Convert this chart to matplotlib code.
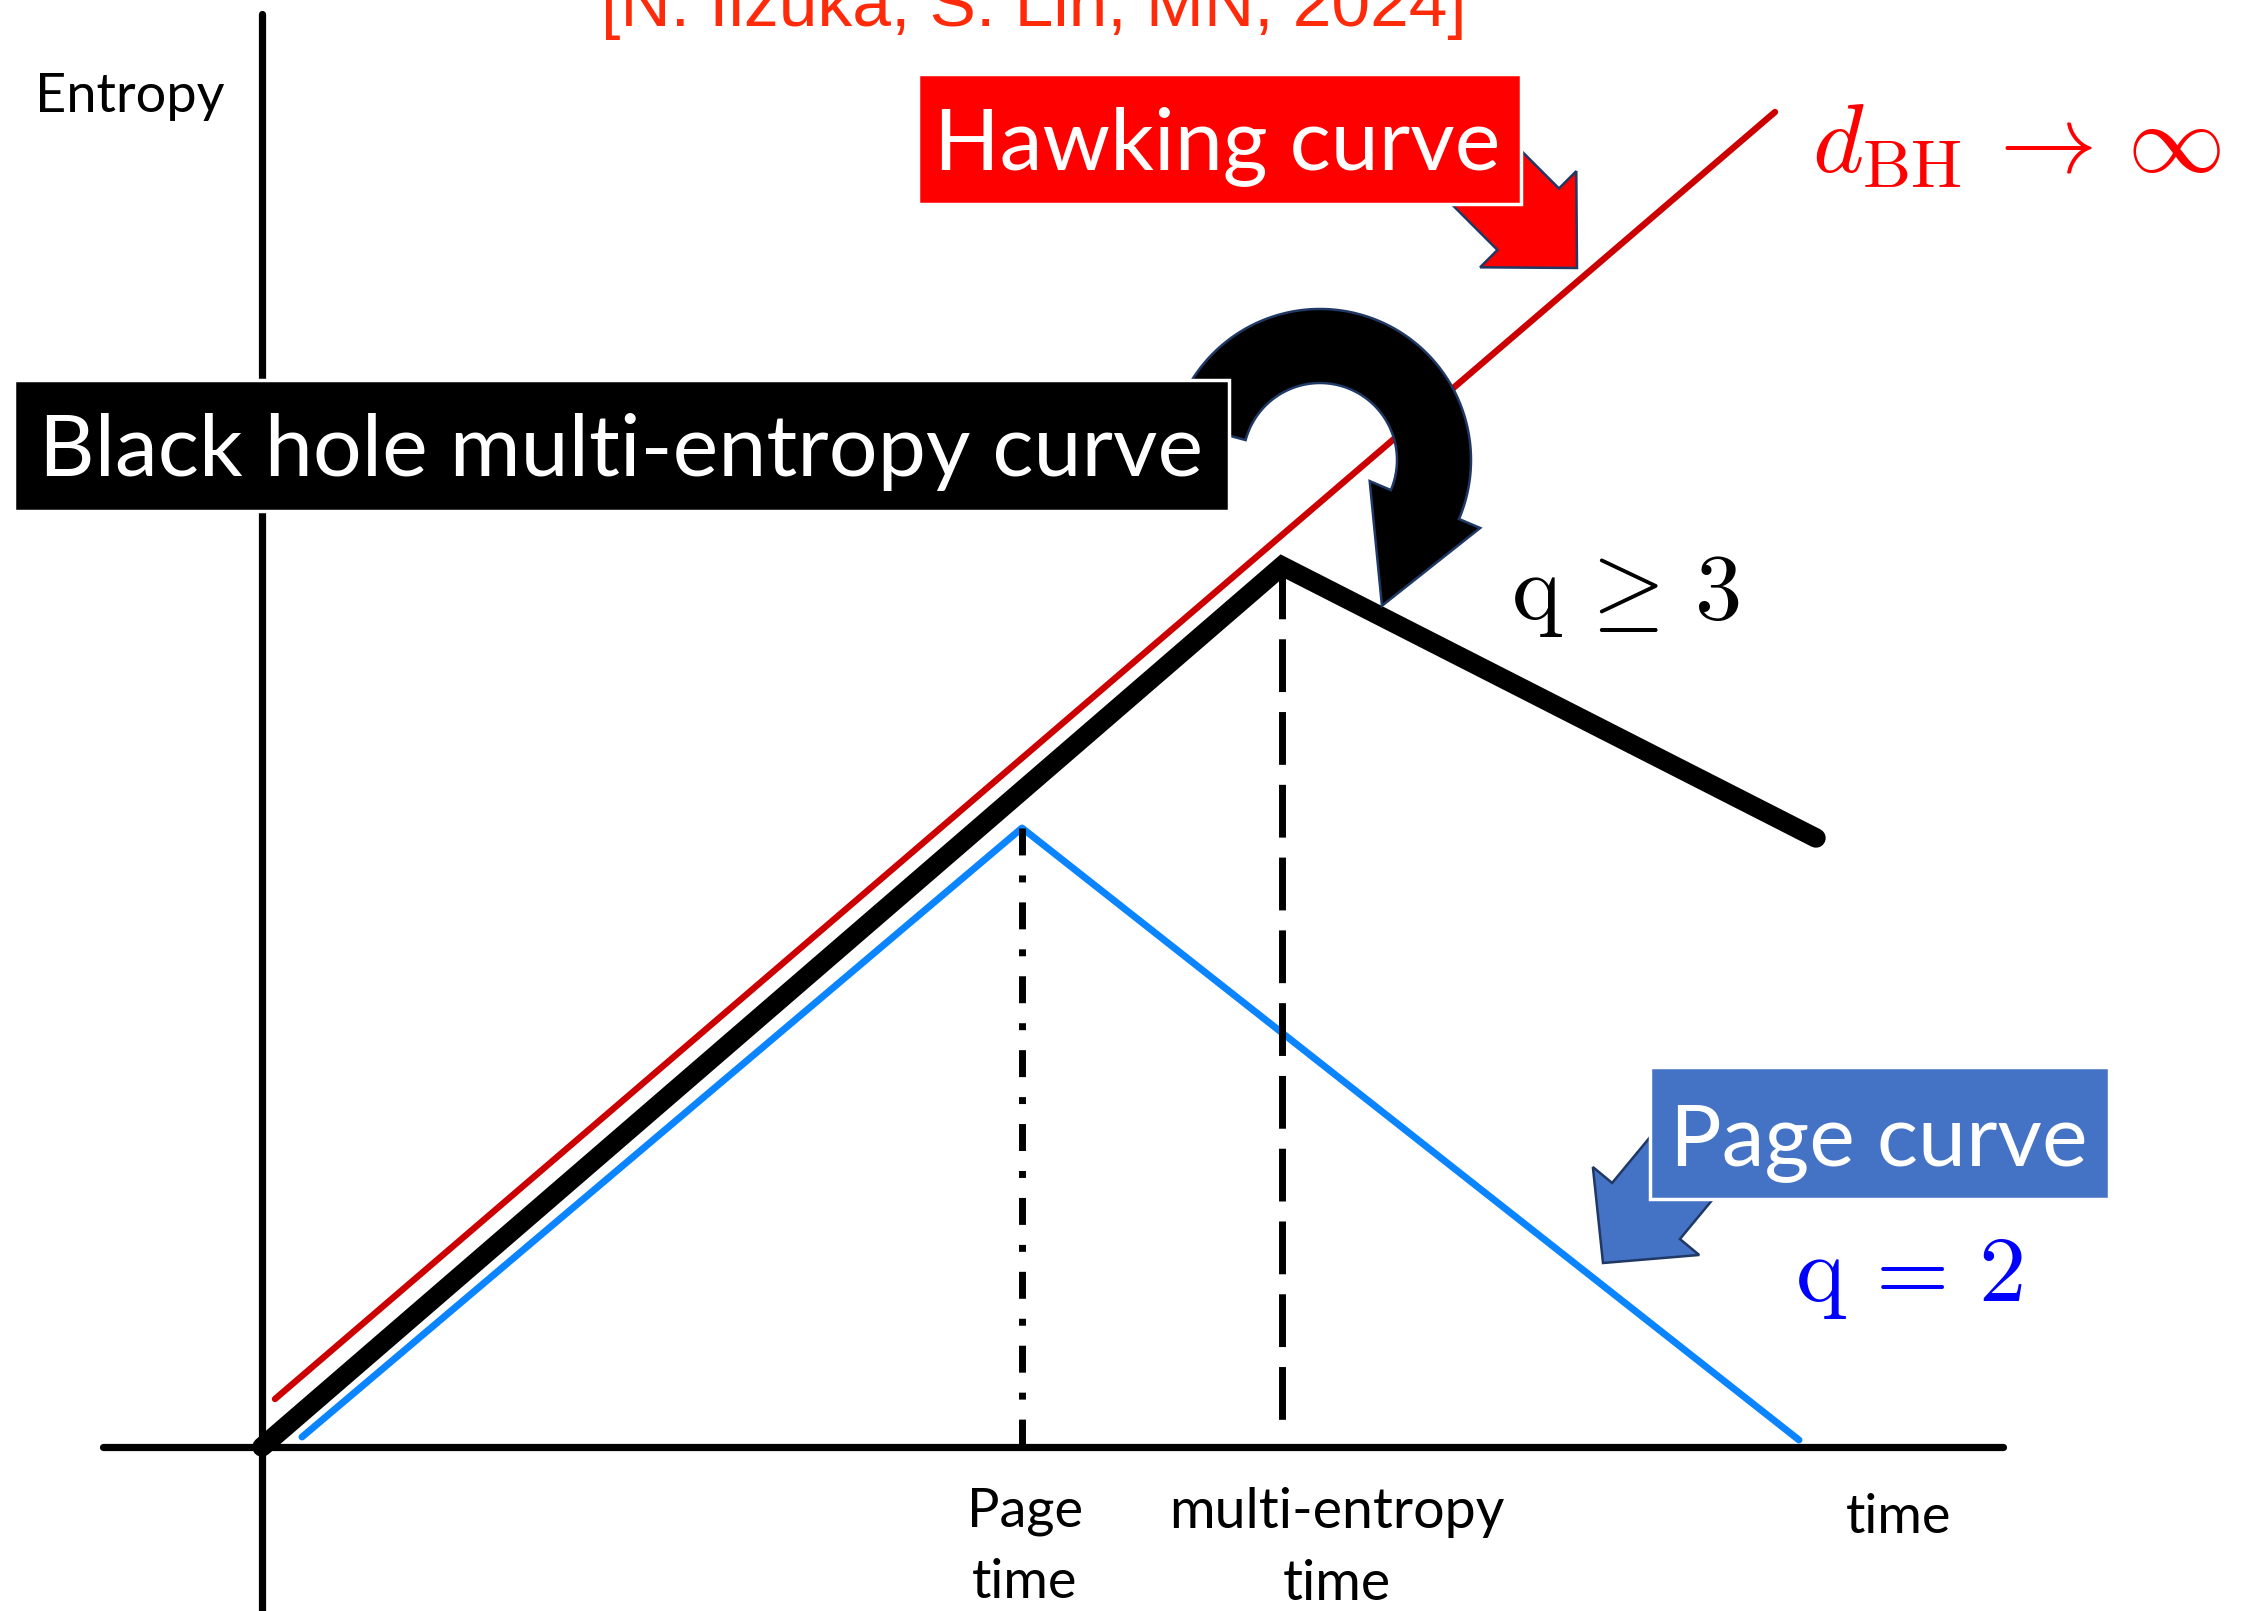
import matplotlib
matplotlib.use("Agg")
import matplotlib.pyplot as plt
import numpy as np
from matplotlib.patches import Polygon, Rectangle

plt.rcParams.update({
    "mathtext.fontset": "cm",
    "lines.scale_dashes": False,
})

# Schematic curves: time vs entropy
hawking_t = [0.13, 15.13]
hawking_s = [0.48, 13.35]
multi_t = [0.0, 10.2, 15.54]
multi_s = [0.0, 8.81, 6.09]
page_t = [0.40, 7.60, 15.37]
page_s = [0.10, 6.19, 0.07]

PAGE_TIME = page_t[1]
MULTI_TIME = multi_t[1]

SANS = "Lato"
BOX_FS = 62
LABEL_FS = 39
MATH_FS = 68
EDGE = "#1f3864"


def block_arrow(ax, tip, direction, length, shaft_hw, head_hw, head_len, **kw):
    d = np.asarray(direction, float)
    d /= np.hypot(*d)
    n = np.array([-d[1], d[0]])
    tip = np.asarray(tip, float)
    base = tip - head_len * d
    tail = tip - length * d
    pts = [tail + shaft_hw * n, base + shaft_hw * n, base + head_hw * n, tip,
           base - head_hw * n, base - shaft_hw * n, tail - shaft_hw * n]
    ax.add_patch(Polygon(pts, closed=True, **kw))


def curved_arrow(ax, center, radius, half_w, theta0, theta1, head_hw, head_len, **kw):
    """Clockwise arc-shaped block arrow."""
    c = np.asarray(center, float)
    th = np.radians(np.linspace(theta0, theta1, 120))
    ring = np.c_[np.cos(th), np.sin(th)]
    outer = c + ring * (radius + half_w)
    inner = c + ring * (radius - half_w)
    t1 = th[-1]
    u = np.array([np.cos(t1), np.sin(t1)])
    tang = np.array([np.sin(t1), -np.cos(t1)])
    mid = c + radius * u
    head = [mid + head_hw * u, mid + head_len * tang, mid - head_hw * u]
    pts = np.vstack([outer, head, inner[::-1]])
    ax.add_patch(Polygon(pts, closed=True, **kw))


def label_box(ax, x0, y0, x1, y1, color, text, tx, ty):
    ax.add_patch(Rectangle((x0, y0), x1 - x0, y1 - y0, facecolor=color,
                           edgecolor="white", linewidth=2.5, zorder=5))
    ax.text(tx, ty, text, color="white", fontsize=BOX_FS, family=SANS,
            ha="center", va="baseline", zorder=6)


fig = plt.figure(figsize=(22.46, 16.11), dpi=100)
ax = fig.add_axes([0, 0, 1, 1])
ax.set_xlim(-2.62, 19.84)
ax.set_ylim(-1.64, 14.47)
ax.set_xticks([])
ax.set_yticks([])

# axes drawn as crossing spines
for side in ("top", "right"):
    ax.spines[side].set_visible(False)
ax.spines["left"].set_position(("data", 0))
ax.spines["bottom"].set_position(("data", 0))
ax.spines["left"].set_bounds(-2.0, 14.33)
ax.spines["bottom"].set_bounds(-1.59, 17.41)
for side in ("left", "bottom"):
    ax.spines[side].set_linewidth(5.2)
    ax.spines[side].set_capstyle("round")
    ax.spines[side].set_zorder(1)

# curves
ax.plot(hawking_t, hawking_s, color="#cc0000", lw=4.6, solid_capstyle="round", zorder=2)
ax.plot(page_t, page_s, color="#0a84ff", lw=5.0, solid_capstyle="round", zorder=2)
ax.plot([PAGE_TIME, PAGE_TIME], [page_s[1], 0], color="black", lw=5.0,
        linestyle=(0, (19.4, 14.4, 5, 14.4)), zorder=2)
ax.plot([MULTI_TIME, MULTI_TIME], [multi_s[1], 0.15], color="black", lw=5.0,
        linestyle=(0, (38, 14.4)), zorder=2)
ax.plot(multi_t, multi_s, color="black", lw=14, solid_capstyle="round",
        solid_joinstyle="miter", zorder=3)

# call-out arrows
block_arrow(ax, (13.15, 11.79), (1, -1), 2.0, 0.435, 0.68, 0.69,
            facecolor="#ff0000", edgecolor=EDGE, linewidth=1.8, zorder=4)
block_arrow(ax, (13.41, 1.84), (-0.637, -0.770), 2.0, 0.44, 0.69, 0.675,
            facecolor="#4472c4", edgecolor=EDGE, linewidth=1.8, zorder=4)
curved_arrow(ax, (10.58, 9.87), 1.14, 0.37, 165, -23, 0.60, 1.10,
             facecolor="black", edgecolor=EDGE, linewidth=1.8, zorder=4)

# labelled boxes
label_box(ax, 6.56, 12.43, 12.59, 13.73, "#ff0000", "Hawking curve", 9.55, 12.78)
label_box(ax, -2.48, 9.36, 9.67, 10.67, "black", "Black hole multi-entropy curve", 3.59, 9.71)
label_box(ax, 13.88, 2.48, 18.47, 3.80, "#4472c4", "Page curve", 16.17, 2.82)

# reference line at the top
ax.text(7.72, 14.21, "[N. Iizuka, S. Lin, MN, 2024]", color="#ff2a0a", fontsize=50,
        family="Liberation Sans", ha="center", va="baseline")

# axis labels
ax.text(-1.32, 13.35, "Entropy", fontsize=LABEL_FS, family=SANS, ha="center", va="baseline")
ax.text(PAGE_TIME + 0.03, -0.40, "Page\ntime", fontsize=LABEL_FS, family=SANS,
        ha="center", va="top", multialignment="center", linespacing=1.55)
ax.text(10.75, -0.40, "multi-entropy\ntime", fontsize=LABEL_FS + 1, family=SANS,
        ha="center", va="top", multialignment="center", linespacing=1.5)
ax.text(16.37, -0.86, "time", fontsize=LABEL_FS, family=SANS, ha="center", va="baseline")

# math annotations
ax.text(15.5, 12.75, r"$d_{\mathrm{BH}} \,\to\, \infty$", color="#ff0000", fontsize=MATH_FS + 2,
        ha="left", va="baseline")
ax.text(13.64, 8.28, r"$\mathrm{q} \,\geq\, 3$", color="black", fontsize=MATH_FS,
        ha="center", va="baseline")
ax.text(16.47, 1.46, r"$\mathrm{q} \,=\, 2$", color="#0000ff", fontsize=MATH_FS,
        ha="center", va="baseline")

fig.savefig("out.png", dpi=100, facecolor="white")
